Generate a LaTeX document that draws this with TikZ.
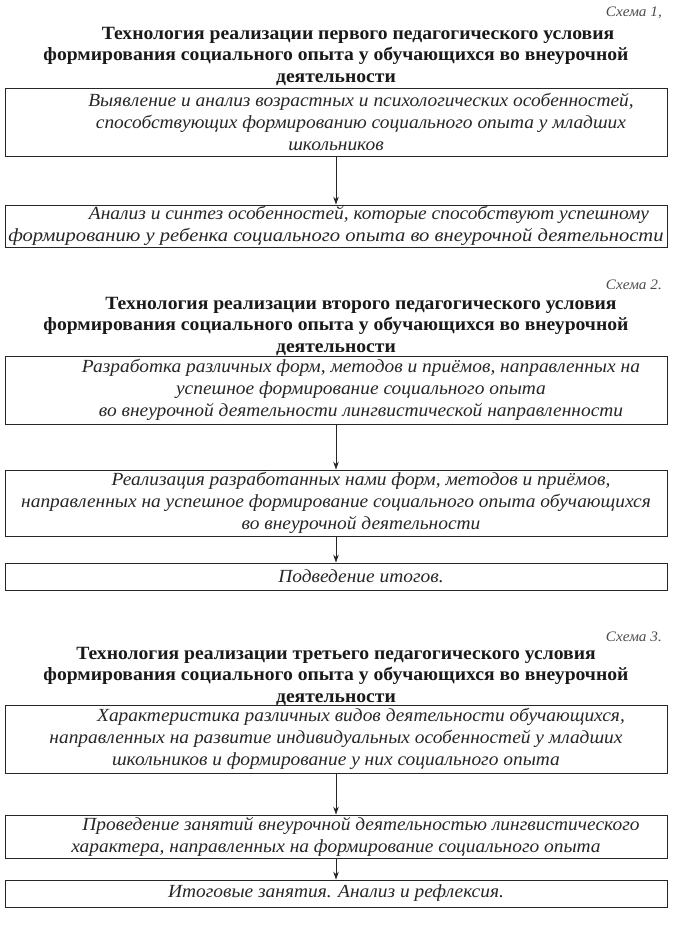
\documentclass[tikz,border=0pt]{standalone}
\usepackage{graphicx}
\usepackage{fontspec}
\setmainfont[FakeStretch=1.05]{Liberation Serif}
\usetikzlibrary{arrows.meta}
\begin{document}
\begin{tikzpicture}[x=1pt,y=-1pt,
  box/.style={draw=black!85, line width=0.8pt, minimum width=662pt, inner sep=0pt, align=center,
    font=\fontsize{18.5}{22}\selectfont\itshape, text=black!85},
  ttl/.style={align=center, inner sep=0pt, font=\fontsize{18.7}{21.5}\selectfont\bfseries, text=black!90},
  schem/.style={anchor=east, inner sep=0pt, font=\fontsize{14.5}{16}\selectfont\itshape, text=black!70},
  arr/.style={draw=black!85, -{Stealth[length=8pt,width=5.5pt]}, line width=0.8pt}]
\useasboundingbox (0,0) rectangle (673,932);
\fill[white] (0,0) rectangle (673,932);

% Scheme 1
\node[schem] (s1) at (662,13) {Схема 1,};
\node[ttl] (t1) at (336,56) {\hspace*{44pt}Технология реализации первого педагогического условия\\
формирования социального опыта у обучающихся во внеурочной\\деятельности};
\node[box, minimum height=68pt] (b1) at (336,122) {\hspace*{50pt}Выявление и анализ возрастных и психологических особенностей,\\
\hspace*{50pt}способствующих формированию социального опыта у младших\\школьников};
\node[box, minimum height=42pt] (b2) at (336,226) {\hspace*{66pt}Анализ и синтез особенностей, которые способствуют успешному\\
\scalebox{1.06}[1]{формированию у ребенка социального опыта во внеурочной деятельности}};
\draw[arr] (b1) -- (b2);

% Scheme 2
\node[schem] (s2) at (662,285) {Схема 2.};
\node[ttl] (t2) at (336,326) {\hspace*{50pt}Технология реализации второго педагогического условия\\
формирования социального опыта у обучающихся во внеурочной\\деятельности};
\node[box, minimum height=68pt] (b3) at (336,390) {\hspace*{50pt}Разработка различных форм, методов и приёмов, направленных на\\
\hspace*{50pt}успешное формирование социального опыта\\
\hspace*{50pt}во внеурочной деятельности лингвистической направленности};
\node[box, minimum height=66pt] (b4) at (336,503) {\hspace*{50pt}Реализация разработанных нами форм, методов и приёмов,\\
направленных на успешное формирование социального опыта обучающихся\\
\hspace*{50pt}во внеурочной деятельности};
\node[box, minimum height=27pt] (b5) at (336,576.5) {\hspace*{50pt}Подведение итогов.};
\draw[arr] (b3) -- (b4);
\draw[arr] (b4) -- (b5);

% Scheme 3
\node[schem] (s3) at (662,637) {Схема 3.};
\node[ttl] (t3) at (336,676) {Технология реализации третьего педагогического условия\\
формирования социального опыта у обучающихся во внеурочной\\деятельности};
\node[box, minimum height=68pt] (b6) at (336,739) {\hspace*{50pt}Характеристика различных видов деятельности обучающихся,\\
направленных на развитие индивидуальных особенностей у младших\\
школьников и формирование у них социального опыта};
\node[box, minimum height=43pt] (b7) at (336,836.5) {\hspace*{50pt}Проведение занятий внеурочной деятельностью лингвистического\\
характера, направленных на формирование социального опыта};
\node[box, minimum height=27pt] (b8) at (336,893.5) {Итоговые занятия. Анализ и рефлексия.};
\draw[arr] (b6) -- (b7);
\draw[arr] (b7) -- (b8);
\end{tikzpicture}
\end{document}
